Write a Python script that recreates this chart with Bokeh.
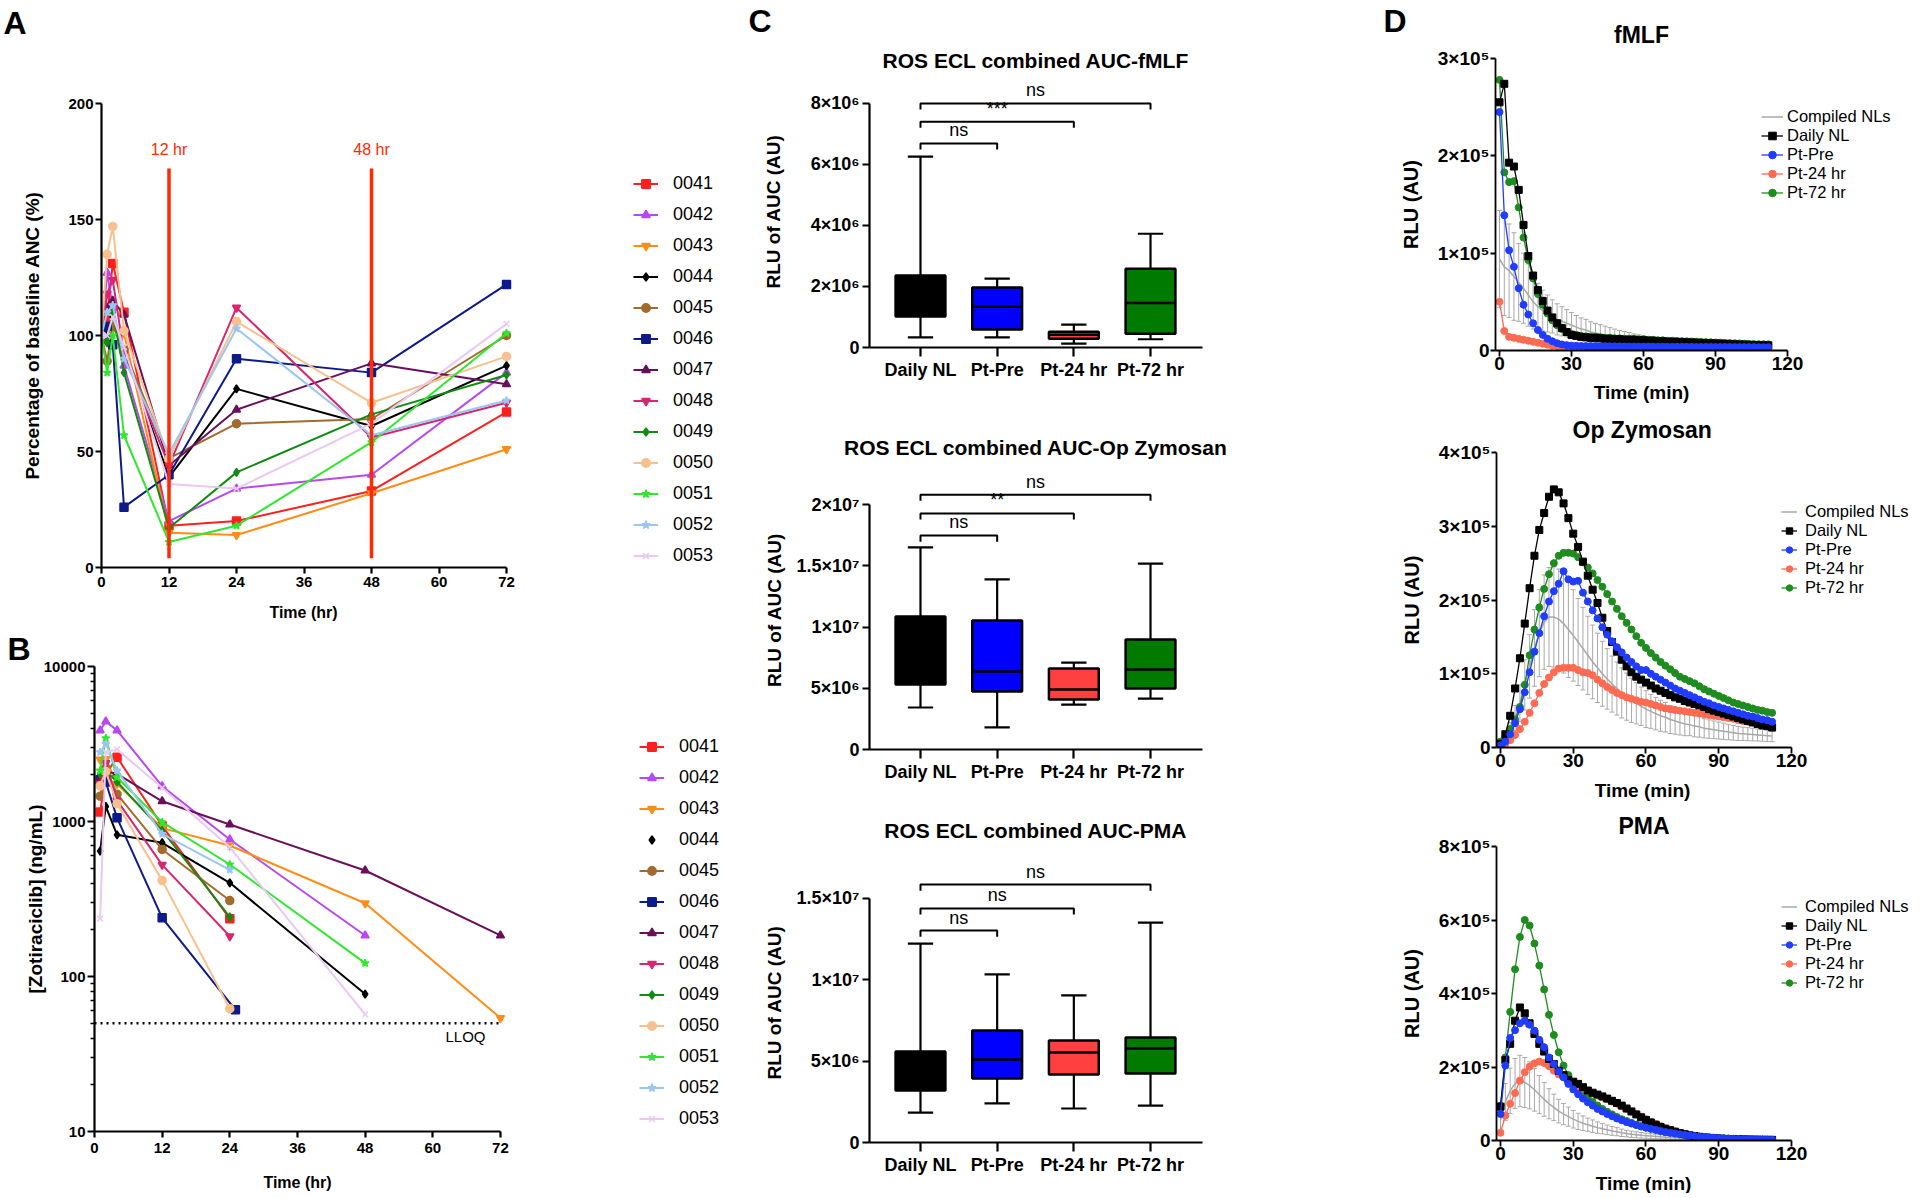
import numpy as np
from bokeh.plotting import figure
from bokeh.models import (Range1d, FixedTicker, Label, Legend, LegendItem, ColumnDataSource,
                          Whisker, TeeHead, NumeralTickFormatter)
from bokeh.layouts import row, column
from bokeh.embed import file_html
from bokeh.resources import INLINE

FONT = "Liberation Sans"

# ---------------- Panel A : ANC (% of baseline) ----------------
anc_time_hr = [0, 1, 2, 4, 12, 24, 48, 72]
patient_ids = ["0041", "0042", "0043", "0044", "0045", "0046", "0047",
               "0048", "0049", "0050", "0051", "0052", "0053"]
anc_0041 = [100, 108, 131, 110, 18, 20, 33, 67]
anc_0042 = [100, 127, 112, 87, 20, 34, 40, 84]
anc_0043 = [100, 97, 103, 101, 15, 14, 32, 51]
anc_0044 = [100, 102, 108, 94, 39, 77, 61, 87]
anc_0045 = [100, 89, 104, 94, 47, 62, 64, 100]
anc_0046 = [100, 104, 96, 26, 40, 90, 84, 122]
anc_0047 = [100, 112, 115, 109, 44, 68, 88, 79]
anc_0048 = [100, 118, 124, 92, 44, 112, 56, 71]
anc_0049 = [100, 97, 110, 84, 17, 41, 66, 83]
anc_0050 = [100, 135, 147, 102, 47, 106, 71, 91]
anc_0051 = [100, 84, 100, 57, 11, 18, 54, 101]
anc_0052 = [100, 110, 113, 90, 49, 103, 57, 72]
anc_0053 = [100, 100, 108, 95, 36, 34, 62, 105]
anc_values = [anc_0041, anc_0042, anc_0043, anc_0044, anc_0045, anc_0046, anc_0047,
              anc_0048, anc_0049, anc_0050, anc_0051, anc_0052, anc_0053]
dose_marks_hr = [12, 48]
dose_mark_labels = ["12 hr", "48 hr"]

# ---------------- Panel B : Zotiraciclib concentration (ng/mL) ----------------
pk_t_0041 = [1, 2, 4, 12, 24];           pk_c_0041 = [1150, 2010, 2600, 938, 236]
pk_t_0042 = [1, 2, 4, 12, 24, 48];       pk_c_0042 = [3870, 4420, 3870, 1690, 766, 184]
pk_t_0043 = [1, 2, 4, 12, 24, 48, 72];   pk_c_0043 = [2510, 2530, 1750, 906, 700, 297, 54]
pk_t_0044 = [1, 2, 4, 12, 24, 48];       pk_c_0044 = [644, 1250, 820, 729, 402, 77]
pk_t_0045 = [1, 2, 4, 12, 24];           pk_c_0045 = [1457, 2210, 1500, 660, 309]
pk_t_0046 = [1, 2, 4, 12, 25];           pk_c_0046 = [1860, 1800, 1056, 239, 61]
pk_t_0047 = [1, 2, 4, 12, 24, 48, 72];   pk_c_0047 = [1900, 2100, 2030, 1350, 957, 483, 184]
pk_t_0048 = [1, 2, 4, 12, 24];           pk_c_0048 = [1750, 2380, 1370, 525, 182]
pk_t_0049 = [1, 2, 4, 12, 24];           pk_c_0049 = [2030, 2130, 1800, 875, 242]
pk_t_0050 = [1, 2, 4, 12, 24];           pk_c_0050 = [1700, 2100, 1300, 417, 62]
pk_t_0051 = [1, 2, 4, 12, 24, 48];       pk_c_0051 = [2130, 3450, 1930, 990, 528, 122]
pk_t_0052 = [1, 2, 4, 12, 24];           pk_c_0052 = [2800, 3170, 2130, 832, 488]
pk_t_0053 = [1, 2, 4, 12, 24, 48];       pk_c_0053 = [236, 2800, 2920, 1650, 682, 57]
pk_times = [pk_t_0041, pk_t_0042, pk_t_0043, pk_t_0044, pk_t_0045, pk_t_0046, pk_t_0047,
            pk_t_0048, pk_t_0049, pk_t_0050, pk_t_0051, pk_t_0052, pk_t_0053]
pk_concs = [pk_c_0041, pk_c_0042, pk_c_0043, pk_c_0044, pk_c_0045, pk_c_0046, pk_c_0047,
            pk_c_0048, pk_c_0049, pk_c_0050, pk_c_0051, pk_c_0052, pk_c_0053]
lloq_ng_ml = 50
time_ticks_hr = [0, 12, 24, 36, 48, 60, 72]

# ---------------- Panel C : AUC box plots ----------------
groups = ["Daily NL", "Pt-Pre", "Pt-24 hr", "Pt-72 hr"]
fmlf_min = [0.33e6, 0.33e6, 0.13e6, 0.27e6]
fmlf_q1 = [1.02e6, 0.59e6, 0.29e6, 0.45e6]
fmlf_med = [1.50e6, 1.34e6, 0.42e6, 1.46e6]
fmlf_q3 = [2.36e6, 1.97e6, 0.52e6, 2.58e6]
fmlf_max = [6.26e6, 2.26e6, 0.75e6, 3.73e6]
fmlf_sig = ["ns", "***", "ns"]
fmlf_sig_y = [6.69e6, 7.40e6, 8.00e6]

opz_min = [3.43e6, 1.80e6, 3.67e6, 4.16e6]
opz_q1 = [5.30e6, 4.73e6, 4.08e6, 4.98e6]
opz_med = [8.00e6, 6.37e6, 4.90e6, 6.53e6]
opz_q3 = [10.86e6, 10.53e6, 6.61e6, 8.98e6]
opz_max = [16.50e6, 13.88e6, 7.10e6, 15.18e6]
opz_sig = ["ns", "**", "ns"]
opz_sig_y = [1.747e7, 1.927e7, 2.08e7]

pma_min = [1.84e6, 2.40e6, 2.09e6, 2.27e6]
pma_q1 = [3.20e6, 3.93e6, 4.18e6, 4.24e6]
pma_med = [4.40e6, 5.10e6, 5.53e6, 5.78e6]
pma_q3 = [5.60e6, 6.89e6, 6.27e6, 6.45e6]
pma_max = [12.23e6, 10.33e6, 9.04e6, 13.52e6]
pma_sig = ["ns", "ns", "ns"]
pma_sig_y = [1.303e7, 1.439e7, 1.586e7]

c1_ticks = [0, 2000000, 4000000, 6000000, 8000000]
c1_tick_text = ["0", "2\u00d710\u2076", "4\u00d710\u2076", "6\u00d710\u2076", "8\u00d710\u2076"]
c2_ticks = [0, 5000000, 10000000, 15000000, 20000000]
c2_tick_text = ["0", "5\u00d710\u2076", "1\u00d710\u2077", "1.5\u00d710\u2077", "2\u00d710\u2077"]
c3_ticks = [0, 5000000, 10000000, 15000000]
c3_tick_text = ["0", "5\u00d710\u2076", "1\u00d710\u2077", "1.5\u00d710\u2077"]

# ---------------- Panel D : kinetics (RLU, in units of 1e5) ----------------
RLU_UNIT = 1e5
time_min = list(range(0, 113, 2))
series_names = ["Daily NL", "Pt-Pre", "Pt-24 hr", "Pt-72 hr"]

fmlf_daily = [
    2.55, 2.74, 1.93, 1.89, 1.65, 1.29, 0.97, 0.77, 0.62, 0.51,
    0.41, 0.34, 0.28, 0.23, 0.19, 0.16, 0.15, 0.14, 0.135, 0.13,
    0.13, 0.125, 0.12, 0.12, 0.115, 0.115, 0.11, 0.11, 0.11, 0.105,
    0.105, 0.10, 0.10, 0.095, 0.095, 0.09, 0.09, 0.088, 0.086, 0.084,
    0.082, 0.08, 0.078, 0.076, 0.074, 0.072, 0.07, 0.068, 0.066, 0.064,
    0.062, 0.06, 0.058, 0.056, 0.055, 0.054, 0.053]
fmlf_pre = [
    2.45, 1.39, 1.03, 0.86, 0.64, 0.47, 0.37, 0.28, 0.21, 0.16,
    0.12, 0.095, 0.075, 0.062, 0.055, 0.05, 0.048, 0.046, 0.045, 0.044,
    0.044, 0.043, 0.043, 0.042, 0.042, 0.042, 0.041, 0.041, 0.041, 0.04,
    0.04, 0.04, 0.04, 0.039, 0.039, 0.039, 0.039, 0.038, 0.038, 0.038,
    0.038, 0.037, 0.037, 0.037, 0.037, 0.036, 0.036, 0.036, 0.036, 0.035,
    0.035, 0.035, 0.035, 0.035, 0.034, 0.034, 0.034]
fmlf_24 = [
    0.50, 0.20, 0.14, 0.13, 0.12, 0.11, 0.10, 0.09, 0.08, 0.07,
    0.06, 0.05, 0.045, 0.04, 0.035, 0.03, 0.028, 0.026, 0.025, 0.024,
    0.023, 0.023, 0.022, 0.022, 0.022, 0.021, 0.021, 0.021, 0.02, 0.02,
    0.02, 0.02, 0.02, 0.019, 0.019, 0.019, 0.019, 0.019, 0.018, 0.018,
    0.018, 0.018, 0.018, 0.018, 0.017, 0.017, 0.017, 0.017, 0.017, 0.017,
    0.016, 0.016, 0.016, 0.016, 0.016, 0.016, 0.016]
fmlf_72 = [
    2.78, 1.83, 1.73, 1.74, 1.47, 1.16, 0.93, 0.74, 0.58, 0.47,
    0.38, 0.31, 0.26, 0.22, 0.19, 0.17, 0.16, 0.15, 0.145, 0.14,
    0.14, 0.135, 0.13, 0.13, 0.125, 0.125, 0.12, 0.12, 0.12, 0.115,
    0.115, 0.11, 0.11, 0.105, 0.105, 0.10, 0.10, 0.098, 0.096, 0.094,
    0.092, 0.09, 0.088, 0.086, 0.084, 0.082, 0.08, 0.078, 0.076, 0.074,
    0.072, 0.07, 0.068, 0.066, 0.065, 0.064, 0.063]
fmlf_nl_mean = [
    0.94, 0.86, 0.82, 0.76, 0.70, 0.64, 0.57, 0.50, 0.45, 0.41,
    0.38, 0.35, 0.32, 0.30, 0.28, 0.26, 0.24, 0.22, 0.21, 0.19,
    0.18, 0.17, 0.16, 0.15, 0.14, 0.13, 0.125, 0.12, 0.11, 0.105,
    0.10, 0.095, 0.09, 0.088, 0.085, 0.082, 0.08, 0.077, 0.075, 0.072,
    0.07, 0.068, 0.066, 0.064, 0.062, 0.06, 0.058, 0.056, 0.055, 0.054,
    0.053, 0.052, 0.051, 0.05, 0.049, 0.048, 0.047]
fmlf_nl_sd = [
    0.50, 0.50, 0.48, 0.45, 0.40, 0.36, 0.32, 0.28, 0.24, 0.21,
    0.19, 0.17, 0.16, 0.15, 0.14, 0.13, 0.12, 0.115, 0.11, 0.105,
    0.10, 0.095, 0.09, 0.085, 0.08, 0.075, 0.07, 0.065, 0.06, 0.056,
    0.052, 0.048, 0.045, 0.042, 0.04, 0.038, 0.036, 0.034, 0.032, 0.03,
    0.029, 0.028, 0.027, 0.026, 0.025, 0.024, 0.023, 0.022, 0.021, 0.021,
    0.02, 0.02, 0.019, 0.019, 0.018, 0.018, 0.018]

opz_daily = [
    0.05, 0.18, 0.43, 0.80, 1.21, 1.68, 2.16, 2.60, 2.95, 3.18,
    3.40, 3.50, 3.46, 3.31, 3.11, 2.90, 2.72, 2.52, 2.33, 2.14,
    1.96, 1.76, 1.58, 1.43, 1.30, 1.19, 1.10, 1.02, 0.96, 0.92,
    0.88, 0.84, 0.80, 0.77, 0.74, 0.71, 0.68, 0.66, 0.63, 0.61,
    0.59, 0.57, 0.55, 0.52, 0.50, 0.48, 0.46, 0.44, 0.42, 0.40,
    0.38, 0.36, 0.34, 0.32, 0.30, 0.29, 0.27]
opz_pre = [
    0.03, 0.08, 0.18, 0.33, 0.52, 0.75, 1.02, 1.30, 1.55, 1.78,
    1.98, 2.12, 2.22, 2.39, 2.28, 2.25, 2.26, 2.10, 1.98, 1.86,
    1.75, 1.63, 1.53, 1.44, 1.36, 1.29, 1.22, 1.16, 1.10, 1.05,
    1.05, 1.00, 0.96, 0.92, 0.88, 0.84, 0.80, 0.77, 0.74, 0.71,
    0.68, 0.65, 0.62, 0.60, 0.57, 0.55, 0.53, 0.51, 0.49, 0.47,
    0.45, 0.43, 0.42, 0.40, 0.38, 0.37, 0.35]
opz_24 = [
    0.02, 0.05, 0.10, 0.17, 0.25, 0.35, 0.47, 0.60, 0.74, 0.86,
    0.95, 1.02, 1.07, 1.08, 1.08, 1.08, 1.05, 1.02, 1.01, 0.98,
    0.92, 0.87, 0.82, 0.78, 0.74, 0.71, 0.68, 0.66, 0.64, 0.62,
    0.61, 0.59, 0.57, 0.55, 0.53, 0.52, 0.51, 0.50, 0.49, 0.48,
    0.47, 0.46, 0.45, 0.44, 0.43, 0.42, 0.41, 0.40, 0.39, 0.37,
    0.36, 0.35, 0.34, 0.33, 0.32, 0.31, 0.30]
opz_72 = [
    0.08, 0.14, 0.25, 0.38, 0.55, 0.85, 1.25, 1.60, 1.90, 2.15,
    2.35, 2.50, 2.60, 2.64, 2.64, 2.63, 2.58, 2.51, 2.44, 2.36,
    2.27, 2.18, 2.08, 1.98, 1.88, 1.78, 1.69, 1.60, 1.51, 1.42,
    1.35, 1.28, 1.22, 1.16, 1.11, 1.06, 1.01, 0.96, 0.93, 0.90,
    0.87, 0.83, 0.79, 0.76, 0.73, 0.70, 0.67, 0.64, 0.61, 0.59,
    0.57, 0.55, 0.53, 0.51, 0.50, 0.48, 0.47]
opz_nl_mean = [
    0.05, 0.12, 0.24, 0.40, 0.60, 0.85, 1.10, 1.35, 1.55, 1.70,
    1.77, 1.77, 1.74, 1.68, 1.60, 1.52, 1.43, 1.34, 1.25, 1.16,
    1.08, 1.00, 0.93, 0.86, 0.80, 0.74, 0.69, 0.64, 0.60, 0.56,
    0.52, 0.49, 0.46, 0.43, 0.41, 0.38, 0.36, 0.34, 0.32, 0.31,
    0.29, 0.28, 0.26, 0.25, 0.24, 0.23, 0.22, 0.21, 0.20, 0.19,
    0.185, 0.18, 0.175, 0.17, 0.165, 0.16, 0.155]
opz_nl_sd = [
    0.02, 0.05, 0.10, 0.17, 0.25, 0.34, 0.43, 0.52, 0.59, 0.64,
    0.67, 0.68, 0.68, 0.67, 0.65, 0.62, 0.59, 0.56, 0.53, 0.50,
    0.47, 0.44, 0.41, 0.38, 0.36, 0.34, 0.32, 0.30, 0.28, 0.26,
    0.25, 0.23, 0.22, 0.21, 0.20, 0.19, 0.18, 0.17, 0.16, 0.15,
    0.145, 0.14, 0.13, 0.125, 0.12, 0.115, 0.11, 0.105, 0.10, 0.095,
    0.09, 0.088, 0.085, 0.082, 0.08, 0.078, 0.075]

pma_daily = [
    0.92, 2.19, 2.63, 3.26, 3.62, 3.46, 3.19, 2.90, 2.63, 2.42,
    2.22, 2.08, 1.90, 1.78, 1.65, 1.60, 1.54, 1.45, 1.36, 1.30,
    1.25, 1.20, 1.14, 1.08, 1.02, 0.95, 0.87, 0.79, 0.71, 0.63,
    0.56, 0.49, 0.43, 0.37, 0.32, 0.28, 0.24, 0.20, 0.17, 0.14,
    0.12, 0.10, 0.085, 0.072, 0.06, 0.052, 0.046, 0.04, 0.036, 0.032,
    0.029, 0.026, 0.024, 0.022, 0.02, 0.019, 0.018]
pma_pre = [
    0.72, 2.04, 2.79, 3.00, 3.19, 3.26, 3.15, 2.99, 2.74, 2.54,
    2.26, 2.08, 1.88, 1.72, 1.54, 1.39, 1.26, 1.14, 1.04, 0.95,
    0.86, 0.79, 0.72, 0.66, 0.60, 0.55, 0.50, 0.46, 0.42, 0.38,
    0.35, 0.32, 0.29, 0.26, 0.23, 0.21, 0.19, 0.17, 0.15, 0.135,
    0.12, 0.105, 0.095, 0.085, 0.075, 0.066, 0.058, 0.052, 0.046, 0.041,
    0.037, 0.033, 0.03, 0.027, 0.025, 0.023, 0.021]
pma_24 = [
    0.21, 0.68, 1.00, 1.29, 1.63, 1.86, 2.01, 2.10, 2.15, 2.11,
    2.02, 1.90, 1.80, 1.72, 1.62, 1.55, 1.47, 1.41, 1.35, 1.28,
    1.23, 1.17, 1.12, 1.06, 1.00, 0.93, 0.86, 0.79, 0.72, 0.65,
    0.58, 0.51, 0.45, 0.39, 0.34, 0.29, 0.25, 0.21, 0.18, 0.15,
    0.13, 0.11, 0.09, 0.08, 0.065, 0.055, 0.048, 0.042, 0.037, 0.033,
    0.03, 0.027, 0.025, 0.023, 0.021, 0.02, 0.019]
pma_72 = [
    0.95, 2.26, 3.50, 4.66, 5.54, 6.00, 5.85, 5.36, 4.76, 4.11,
    3.42, 2.87, 2.40, 2.04, 1.78, 1.58, 1.42, 1.28, 1.16, 1.05,
    0.95, 0.86, 0.78, 0.71, 0.64, 0.58, 0.53, 0.48, 0.43, 0.39,
    0.35, 0.32, 0.29, 0.26, 0.23, 0.21, 0.19, 0.17, 0.15, 0.135,
    0.12, 0.105, 0.095, 0.085, 0.075, 0.066, 0.058, 0.052, 0.046, 0.041,
    0.037, 0.033, 0.03, 0.027, 0.025, 0.023, 0.021]
pma_nl_mean = [
    0.55, 1.05, 1.35, 1.55, 1.62, 1.58, 1.50, 1.38, 1.25, 1.12,
    1.00, 0.90, 0.80, 0.72, 0.65, 0.58, 0.52, 0.47, 0.43, 0.39,
    0.35, 0.32, 0.29, 0.26, 0.24, 0.21, 0.19, 0.17, 0.155, 0.14,
    0.13, 0.12, 0.11, 0.10, 0.09, 0.08, 0.072, 0.065, 0.058, 0.052,
    0.047, 0.042, 0.038, 0.034, 0.031, 0.028, 0.025, 0.023, 0.021, 0.019,
    0.017, 0.016, 0.015, 0.014, 0.013, 0.012, 0.011]
pma_nl_sd = [
    0.30, 0.50, 0.62, 0.68, 0.70, 0.68, 0.64, 0.58, 0.52, 0.46,
    0.41, 0.36, 0.32, 0.29, 0.26, 0.24, 0.22, 0.20, 0.18, 0.17,
    0.155, 0.14, 0.13, 0.12, 0.11, 0.10, 0.09, 0.085, 0.08, 0.075,
    0.07, 0.065, 0.06, 0.055, 0.05, 0.045, 0.04, 0.037, 0.034, 0.031,
    0.028, 0.026, 0.024, 0.022, 0.02, 0.018, 0.017, 0.016, 0.015, 0.014,
    0.013, 0.012, 0.012, 0.011, 0.011, 0.01, 0.01]

d_time_ticks = [0, 30, 60, 90, 120]
d1_ticks = [0, 100000, 200000, 300000]
d1_tick_text = ["0", "1\u00d710\u2075", "2\u00d710\u2075", "3\u00d710\u2075"]
d2_ticks = [0, 100000, 200000, 300000, 400000]
d2_tick_text = ["0", "1\u00d710\u2075", "2\u00d710\u2075", "3\u00d710\u2075", "4\u00d710\u2075"]
d3_ticks = [0, 200000, 400000, 600000, 800000]
d3_tick_text = ["0", "2\u00d710\u2075", "4\u00d710\u2075", "6\u00d710\u2075", "8\u00d710\u2075"]

# ---------------- styles ----------------
pt_colors = ["#ff1f1f", "#b848f0", "#ff8c14", "#000000", "#a26a2c", "#0c1a8a", "#6a0f5c",
             "#d82670", "#128a12", "#f7c08e", "#2ee82e", "#9cc6f2", "#eac8f2"]
pt_markers = ["square", "triangle", "inverted_triangle", "diamond", "circle", "square", "triangle",
              "inverted_triangle", "diamond", "circle", "star", "star", "x"]
DOSE_RED = "#ff2a00"
box_colors = ["#000000", "#0000ff", "#ff4040", "#007a00"]
d_colors = ["#000000", "#1f3cff", "#ff6a52", "#1e8c1e"]
d_markers = ["square", "circle", "circle", "circle"]
GRAY = "#a8a8a8"


def no_frame_align(p):
    if "frame_align" in p.properties():
        p.frame_align = False


def base_fig(fw, fh, xr, yr, bl, br, bt, bb, y_type="linear"):
    p = figure(frame_width=fw, frame_height=fh, x_range=xr, y_range=yr, y_axis_type=y_type,
               min_border_left=bl, min_border_right=br, min_border_top=bt, min_border_bottom=bb,
               output_backend="svg", toolbar_location=None)
    p.outline_line_color = None
    p.grid.visible = False
    no_frame_align(p)
    return p


def strip(w, h):
    # text strip (page-pixel coordinates, y downwards) for letters and titles outside frames
    p = figure(frame_width=w, frame_height=h, x_range=Range1d(0, w), y_range=Range1d(h, 0),
               x_axis_type=None, y_axis_type=None, min_border=0, min_border_left=0,
               min_border_right=0, min_border_top=0, min_border_bottom=0,
               output_backend="svg", toolbar_location=None)
    p.outline_line_color = None
    no_frame_align(p)
    return p


def strip_text(p, x, y, text, size, align="left"):
    p.add_layout(Label(x=x, y=y, text=text, text_font=FONT, text_font_size=f"{size}px",
                       text_font_style="bold", text_color="black", text_align=align,
                       text_baseline="middle"))


def style_axis(ax, size, tick_out, standoff, width=2.2, label=None, label_size=19,
               label_standoff=5):
    ax.axis_line_width = width
    ax.axis_line_color = "black"
    ax.major_tick_line_width = width
    ax.major_tick_line_color = "black"
    ax.major_tick_out = tick_out
    ax.major_tick_in = 0
    ax.minor_tick_line_color = None
    ax.major_label_text_font = FONT
    ax.major_label_text_font_style = "bold"
    ax.major_label_text_font_size = f"{size}px"
    ax.major_label_text_color = "black"
    ax.major_label_standoff = standoff
    if label:
        ax.axis_label = label
        ax.axis_label_text_font = FONT
        ax.axis_label_text_font_style = "bold"
        ax.axis_label_text_font_size = f"{label_size}px"
        ax.axis_label_text_color = "black"
        ax.axis_label_standoff = label_standoff


def style_title(p, text, size, standoff, align="center", offset=0):
    p.title.text = text
    p.title.align = align
    p.title.offset = offset
    p.title.text_font = FONT
    p.title.text_font_style = "bold"
    p.title.text_font_size = f"{size}px"
    p.title.text_color = "black"
    p.title.standoff = standoff


def patient_legend(items, x, y, spacing):
    return Legend(items=items, location=(x, y), orientation="vertical",
                  border_line_color=None, background_fill_alpha=0,
                  padding=0, margin=0, spacing=spacing, glyph_width=25, glyph_height=21,
                  label_height=21, label_standoff=15, label_text_font=FONT,
                  label_text_font_size="18px", label_text_color="black")


# ================= Panel A =================
headA = strip(735, 91)
strip_text(headA, 3, 22, "A", 32)

# frame extends to the right to hold the legend; the x axis line stops at 72 hr
pA = base_fig(634, 464, Range1d(0, 112.71), Range1d(0, 200), 101, 0, 12, 30)
pA.xaxis.ticker = FixedTicker(ticks=time_ticks_hr)
pA.xaxis.bounds = (time_ticks_hr[0], time_ticks_hr[-1])
pA.yaxis.ticker = FixedTicker(ticks=[0, 50, 100, 150, 200])
style_axis(pA.xaxis[0], 15, 6, 3)
style_axis(pA.yaxis[0], 15, 6, 2, label="Percentage of baseline ANC (%)", label_size=19,
           label_standoff=22)
itemsA = []
for pid, vals, c, m in zip(patient_ids, anc_values, pt_colors, pt_markers):
    ln = pA.line(anc_time_hr, vals, line_color=c, line_width=2)
    sc = pA.scatter(anc_time_hr, vals, marker=m, size=8, fill_color=c, line_color=c, line_width=1.5)
    itemsA.append(LegendItem(label=pid, renderers=[ln, sc]))
pA.segment(x0=dose_marks_hr, y0=4, x1=dose_marks_hr, y1=172, line_color=DOSE_RED, line_width=3.5)
for t, lab in zip(dose_marks_hr, dose_mark_labels):
    pA.add_layout(Label(x=t, y=180, text=lab, text_font=FONT, text_font_size="16px",
                        text_color=DOSE_RED, text_align="center", text_baseline="middle"))
pA.add_layout(patient_legend(itemsA, 532, 1, 10))

stripA = strip(735, 30)
strip_text(stripA, 303, 15, "Time (hr)", 16, align="center")

# ================= Panel B =================
pB = base_fig(641, 465, Range1d(0, 113.69), Range1d(10, 10000), 94, 0, 39, 30, y_type="log")
style_title(pB, "B", 32, 0, align="left", offset=-87)
pB.xaxis.ticker = FixedTicker(ticks=time_ticks_hr)
pB.xaxis.bounds = (time_ticks_hr[0], time_ticks_hr[-1])
pB.yaxis.ticker = FixedTicker(ticks=[10, 100, 1000, 10000],
                              minor_ticks=[k * 10 ** e for e in (1, 2, 3) for k in range(2, 10)])
pB.yaxis.formatter = NumeralTickFormatter(format="0")
style_axis(pB.xaxis[0], 15, 6, 5)
style_axis(pB.yaxis[0], 15, 7, 2, label="[Zotiraciclib] (ng/mL)", label_size=19,
           label_standoff=-5)
pB.yaxis.minor_tick_line_color = "black"
pB.yaxis.minor_tick_line_width = 1.5
pB.yaxis.minor_tick_out = 4
pB.yaxis.minor_tick_in = 0
itemsB = []
for pid, tt, cc, c, m in zip(patient_ids, pk_times, pk_concs, pt_colors, pt_markers):
    ln = pB.line(tt, cc, line_color=c, line_width=2)
    sc = pB.scatter(tt, cc, marker=m, size=8, fill_color=c, line_color=c, line_width=1.5)
    itemsB.append(LegendItem(label=pid, renderers=[sc] if pid == "0044" else [ln, sc]))
pB.line([time_ticks_hr[0], time_ticks_hr[-1]], [lloq_ng_ml, lloq_ng_ml], line_color="black",
        line_width=2.5, line_dash="2 4")
pB.add_layout(Label(x=65.8, y=41, text="LLOQ", text_font=FONT, text_font_size="15px",
                    text_color="black", text_align="center", text_baseline="middle"))
pB.add_layout(patient_legend(itemsB, 545, 2, 10))

footB = strip(735, 30)
strip_text(footB, 297, 21, "Time (hr)", 16, align="center")


# ================= Panel C =================
def box_panel(title, mins, q1s, meds, q3s, maxs, ticks, tick_text, ytop, sig_y, sig_text,
              fh, bt, bb, title_standoff, ylab_standoff):
    p = base_fig(333, fh, Range1d(-0.665, 3.678), Range1d(0, ytop), 134, 178, bt, bb)
    xs = list(range(len(groups)))
    p.xaxis.ticker = FixedTicker(ticks=xs)
    p.xaxis.major_label_overrides = {i: g for i, g in zip(xs, groups)}
    p.yaxis.ticker = FixedTicker(ticks=ticks)
    p.yaxis.major_label_overrides = {v: s for v, s in zip(ticks, tick_text)}
    p.yaxis.bounds = (ticks[0], ticks[-1])
    style_axis(p.xaxis[0], 18, 9, 3)
    style_axis(p.yaxis[0], 18, 7, 3, label="RLU of AUC (AU)", label_size=19,
               label_standoff=ylab_standoff)
    style_title(p, title, 21, title_standoff)
    xa = np.array(xs, dtype=float)
    src = ColumnDataSource(dict(x=xa, lo=mins, q1=q1s, med=meds, q3=q3s, hi=maxs,
                                color=box_colors, bl=xa - 0.325, br=xa + 0.325,
                                cl=xa - 0.165, cr=xa + 0.165))
    p.segment("x", "q3", "x", "hi", source=src, line_color="black", line_width=2.2)
    p.segment("x", "lo", "x", "q1", source=src, line_color="black", line_width=2.2)
    p.segment("cl", "hi", "cr", "hi", source=src, line_color="black", line_width=2.2)
    p.segment("cl", "lo", "cr", "lo", source=src, line_color="black", line_width=2.2)
    p.vbar(x="x", width=0.65, bottom="q1", top="q3", fill_color="color", line_color="black",
           line_width=2.5, source=src)
    p.segment("bl", "med", "br", "med", source=src, line_color="black", line_width=2.5)
    drop = ytop * 0.022
    bx = [[0, 0, j, j] for j in xs[1:]]
    by = [[h - drop, h, h, h - drop] for h in sig_y]
    p.multi_line(bx, by, line_color="black", line_width=2)
    p.text(x=[j / 2 for j in xs[1:]], y=sig_y, text=sig_text, text_align="center",
           text_baseline="bottom", y_offset=-3, text_font_size="18px", text_font={"value": FONT},
           text_color="black")
    return p


headC = strip(645, 42)
strip_text(headC, 13, 20, "C", 32)
pC1 = box_panel("ROS ECL combined AUC-fMLF", fmlf_min, fmlf_q1, fmlf_med, fmlf_q3, fmlf_max,
                c1_ticks, c1_tick_text, 8.918e6, fmlf_sig_y, fmlf_sig, 272, 33, 48, 7, 24)
pC2 = box_panel("ROS ECL combined AUC-Op Zymosan", opz_min, opz_q1, opz_med, opz_q3, opz_max,
                c2_ticks, c2_tick_text, 2.2776e7, opz_sig_y, opz_sig, 279, 75, 41, 23, 9)
pC3 = box_panel("ROS ECL combined AUC-PMA", pma_min, pma_q1, pma_med, pma_q3, pma_max,
                c3_ticks, c3_tick_text, 1.7213e7, pma_sig_y, pma_sig, 280, 72, 48, 41, 9)


# ================= Panel D =================
def kinetic_panel(title, nl_mean, nl_sd, series, ymax, ticks, tick_text, fw, fh, xstart, xend,
                  bl, bt, bb, leg_x, leg_y, glyph_w, leg_standoff, title_standoff, title_offset):
    # frame extends to the page edge to hold the legend; the x axis line stops at 120 min
    p = base_fig(fw, fh, Range1d(xstart, xend), Range1d(0, ymax), bl, 0, bt, bb)
    p.xaxis.ticker = FixedTicker(ticks=d_time_ticks)
    p.xaxis.bounds = (xstart, d_time_ticks[-1])
    p.yaxis.ticker = FixedTicker(ticks=ticks)
    p.yaxis.major_label_overrides = {v: s for v, s in zip(ticks, tick_text)}
    style_axis(p.xaxis[0], 19, 6, 0, width=1.8)
    style_axis(p.yaxis[0], 19, 5, 1, width=1.8, label="RLU (AU)", label_size=20,
               label_standoff=13)
    if title:
        style_title(p, title, 23, title_standoff, align="left", offset=title_offset)
    t = np.array(time_min, dtype=float)
    mean = np.array(nl_mean) * RLU_UNIT
    sd = np.array(nl_sd) * RLU_UNIT
    wsrc = ColumnDataSource(dict(t=t, lo=mean - sd, hi=mean + sd))
    p.add_layout(Whisker(source=wsrc, base="t", lower="lo", upper="hi", line_color=GRAY,
                         line_width=1,
                         upper_head=TeeHead(size=5, line_color=GRAY, line_width=1),
                         lower_head=TeeHead(size=5, line_color=GRAY, line_width=1)))
    gl = p.line(t, mean, line_color=GRAY, line_width=1.5)
    rend = {}
    for idx in (3, 2, 0, 1):
        vals = np.array(series[idx]) * RLU_UNIT
        c = d_colors[idx]
        ln = p.line(t, vals, line_color=c, line_width=1.3)
        sc = p.scatter(t, vals, marker=d_markers[idx], size=7, fill_color=c, line_color=c)
        rend[idx] = [ln, sc]
    items = [LegendItem(label="Compiled NLs", renderers=[gl])]
    for idx, name in enumerate(series_names):
        items.append(LegendItem(label=name, renderers=rend[idx]))
    p.add_layout(Legend(items=items, location=(leg_x, leg_y), border_line_color=None,
                        background_fill_alpha=0, padding=0, margin=0, spacing=0,
                        glyph_width=glyph_w, glyph_height=19, label_height=19,
                        label_standoff=leg_standoff, label_text_font=FONT,
                        label_text_font_size="16.5px", label_text_color="black"))
    return p


headD = strip(540, 46)
strip_text(headD, 3, 20, "D", 32)
strip_text(headD, 261, 34, "fMLF", 23, align="center")
pD1 = kinetic_panel(None, fmlf_nl_mean, fmlf_nl_sd, [fmlf_daily, fmlf_pre, fmlf_24, fmlf_72],
                    300000, d1_ticks, d1_tick_text, 425, 292, -1.67, 175.4, 115, 12, 28,
                    266, 148, 22, 4, 0, 0)
stripD1 = strip(540, 25)
strip_text(stripD1, 261, 14, "Time (min)", 19, align="center")
pD2 = kinetic_panel("Op Zymosan", opz_nl_mean, opz_nl_sd, [opz_daily, opz_pre, opz_24, opz_72],
                    400000, d2_ticks, d2_tick_text, 424, 295, -1.65, 173.2, 116, 49, 28,
                    285, 150, 16, 8, 20, 76)
stripD2 = strip(540, 26)
strip_text(stripD2, 262, 15, "Time (min)", 19, align="center")
pD3 = kinetic_panel("PMA", pma_nl_mean, pma_nl_sd, [pma_daily, pma_pre, pma_24, pma_72],
                    800000, d3_ticks, d3_tick_text, 424, 294, -1.65, 173.2, 116, 45, 28,
                    285, 148, 16, 8, 16, 122)
stripD3 = strip(540, 25)
strip_text(stripD3, 263, 15, "Time (min)", 19, align="center")

layout = row(column(headA, pA, stripA, pB, footB),
             column(headC, pC1, pC2, pC3),
             column(headD, pD1, stripD1, pD2, stripD2, pD3, stripD3))
open("out.html", "w").write(file_html(layout, INLINE, "Figure"))
